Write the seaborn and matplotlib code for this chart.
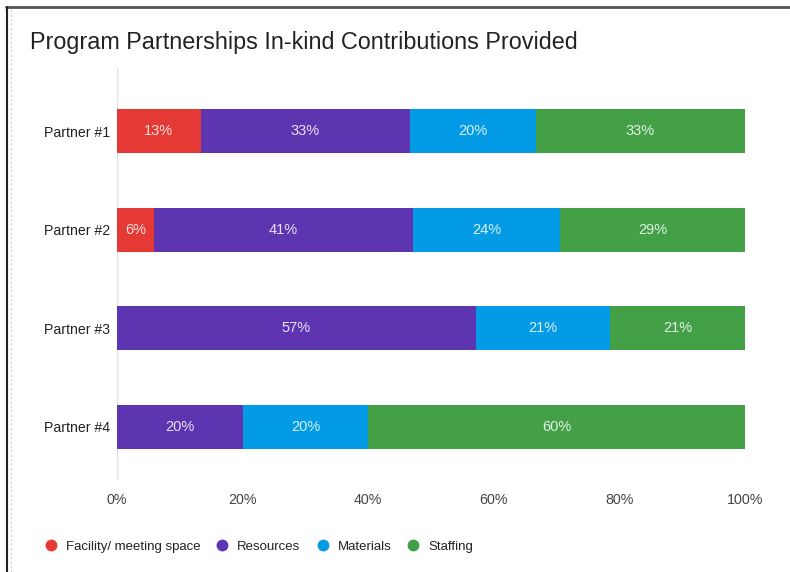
import matplotlib
matplotlib.use("Agg")
import matplotlib.pyplot as plt
from matplotlib.lines import Line2D
import numpy as np
import pandas as pd
import seaborn as sns

# In-kind contribution counts per partner, by contribution type
partners = ["Partner #1", "Partner #2", "Partner #3", "Partner #4"]
categories = ["Facility/ meeting space", "Resources", "Materials", "Staffing"]
facility = [2, 1, 0, 0]
resources = [5, 7, 8, 1]
materials = [3, 4, 3, 1]
staffing = [5, 5, 3, 3]
colors = ["#E53935", "#5E35B1", "#039BE5", "#43A047"]
x_ticks = [0, 20, 40, 60, 80, 100]
x_tick_labels = ["0%", "20%", "40%", "60%", "80%", "100%"]
title = "Program Partnerships In-kind Contributions Provided"

sns.set_theme(style="white")
plt.rcParams["font.family"] = ["Liberation Sans", "DejaVu Sans"]

counts = pd.DataFrame(
    {c: v for c, v in zip(categories, [facility, resources, materials, staffing])},
    index=partners,
)
pct = counts.div(counts.sum(axis=1), axis=0) * 100
cum = pct.cumsum(axis=1)
starts = cum - pct

W, H = 790, 572
fig = plt.figure(figsize=(W / 100, H / 100), dpi=100)
fig.patch.set_facecolor("white")
ax = fig.add_axes([117 / W, 1 - 480 / H, (745 - 117) / W, (480 - 68) / H])

# Stacked bars: draw cumulative totals from the outermost layer inwards
for cat, col in reversed(list(zip(categories, colors))):
    df = pd.DataFrame({"partner": partners, "value": cum[cat].values})
    sns.barplot(data=df, x="value", y="partner", color=col, orient="h",
                width=0.447, saturation=1, ax=ax, edgecolor="none", linewidth=0)

# Segment labels
for i, p in enumerate(partners):
    for cat in categories:
        v = pct.loc[p, cat]
        if v <= 0:
            continue
        cx = starts.loc[p, cat] + v / 2
        ax.text(cx, i, f"{round(v)}%", ha="center", va="center",
                color="white", alpha=0.85, fontsize=10.5)

ax.set_xlim(0, 100)
ax.set_ylim(3.543, -0.64)
ax.set_xticks(x_ticks)
ax.set_xticklabels(x_tick_labels)
ax.set_xlabel("")
ax.set_ylabel("")
for s in ax.spines.values():
    s.set_visible(False)
ax.axvline(0, color="#e0e0e0", lw=1, zorder=0)
ax.tick_params(axis="x", length=0, pad=9, labelsize=10.3, labelcolor="#444444")
ax.tick_params(axis="y", length=0, pad=5, labelsize=10.2, labelcolor="#222222")
ax.grid(False)

fig.text(30 / W, 1 - 49 / H, title, fontsize=16.8, color="#222222",
         ha="left", va="baseline")

handles = [Line2D([0], [0], marker="o", linestyle="none", markersize=7.5,
                  markerfacecolor=c, markeredgecolor=c) for c in colors]
fig.legend(handles, categories, loc="center left", ncol=4, frameon=False,
           bbox_to_anchor=(44 / W, 1 - 546.5 / H), fontsize=9.5,
           handletextpad=0.64, columnspacing=1.17, labelcolor="#222222",
           borderaxespad=0, borderpad=0, handlelength=1.0)

# Page frame
fig.add_artist(Line2D([6 / W, 1], [1 - 6.5 / H, 1 - 6.5 / H], color="#555555",
                      lw=2, transform=fig.transFigure))
fig.add_artist(Line2D([6.5 / W, 6.5 / W], [0, 1 - 6.5 / H], color="#222222",
                      lw=1.5, transform=fig.transFigure))
fig.add_artist(Line2D([11 / W, 11 / W], [0, 1 - 8 / H], color="#cccccc",
                      lw=0.8, ls=(0, (2, 2)), transform=fig.transFigure))

fig.savefig("out.png", dpi=100)
